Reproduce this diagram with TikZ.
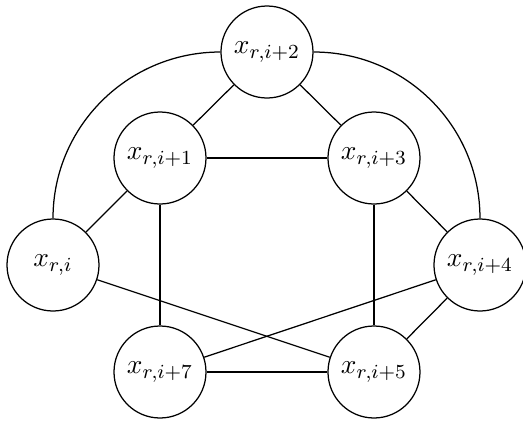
\documentclass[tikz,border=0pt]{standalone}
\begin{document}
\begin{tikzpicture}[x=0.4pt,y=-0.4pt,
  vert/.style={circle,draw,minimum size=36.8pt,inner sep=0pt,line width=0.5pt,font=\fontsize{11}{13}\selectfont},
  edge/.style={line width=0.5pt}]
\useasboundingbox (0,0) rectangle (523,421);
\node[vert] (a2) at (267,52) {$x_{r,i+2}$};
\node[vert] (a1) at (160,158) {$x_{r,i+1}$};
\node[vert] (a3) at (374,158) {$x_{r,i+3}$};
\node[vert] (a0) at (53,265) {$x_{r,i}$};
\node[vert] (a4) at (480,265) {$x_{r,i+4}$};
\node[vert] (a7) at (160,372) {$x_{r,i+7}$};
\node[vert] (a5) at (374,372) {$x_{r,i+5}$};
\draw[edge] (a2) -- (a1);
\draw[edge] (a2) -- (a3);
\draw[edge] (a1) -- (a3);
\draw[edge] (a1) -- (a0);
\draw[edge] (a3) -- (a4);
\draw[edge] (a1) -- (a7);
\draw[edge] (a3) -- (a5);
\draw[edge] (a7) -- (a5);
\draw[edge] (a0) -- (a5);
\draw[edge] (a4) -- (a7);
\draw[edge] (a4) -- (a5);
\draw[edge] (a2.west) to[out=180,in=90] (a0.north);
\draw[edge] (a2.east) to[out=0,in=90] (a4.north);
\end{tikzpicture}
\end{document}
